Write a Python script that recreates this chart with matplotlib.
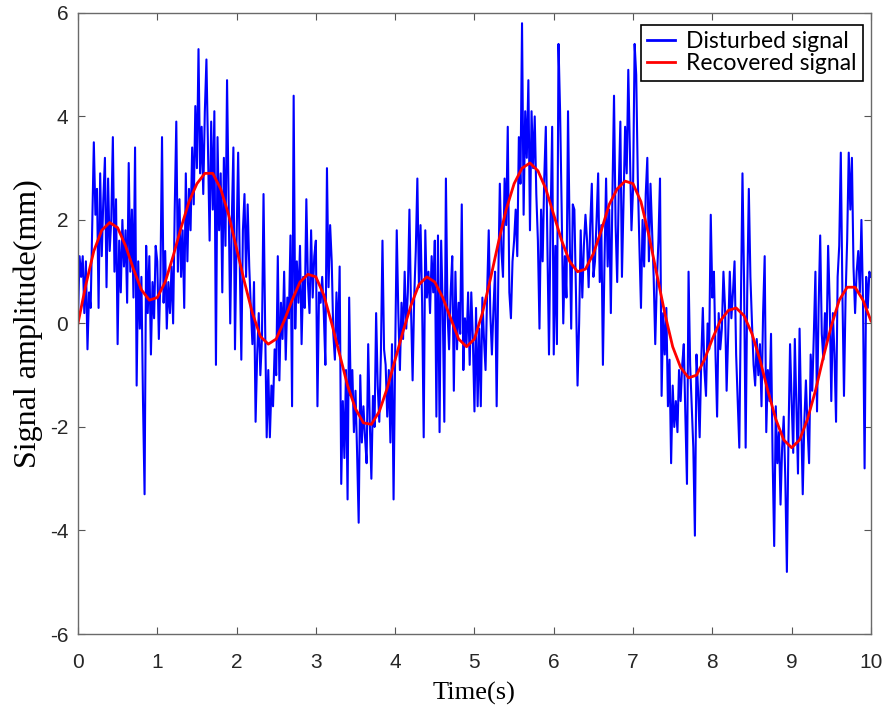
import numpy as np
import matplotlib
matplotlib.use("Agg")
import matplotlib.pyplot as plt

plt.rcParams['axes.unicode_minus'] = False

disturbed = [
    # 0.00 - 0.98
    0.1, 1.3, 0.9, 1.3, 0.2, 1.2, -0.5, 0.6, 0.3, 1.9,
    3.5, 2.1, 2.6, 0.3, 2.9, 1.3, 2.4, 3.2, 0.7, 2.8,
    1.4, 2.0, 3.6, 1.0, 2.4, -0.4, 1.6, 0.6, 2.0, 1.1,
    1.8, 0.4, 3.1, 1.0, 2.2, 0.5, 3.4, -1.2, 1.2, -0.1,
    0.9, -1.5, -3.3, 1.5, 0.2, 1.3, -0.6, 0.8, 0.1, 1.5,
    # 1.00 - 1.98
    1.2, -0.3, 0.9, 3.6, 0.4, 1.4, -0.1, 0.8, 0.2, 1.1,
    0.0, 2.2, 3.9, 1.0, 2.4, 0.9, 1.8, 0.3, 2.9, 1.2,
    2.6, 1.8, 3.4, 2.3, 4.2, 3.0, 5.3, 2.9, 3.8, 2.5,
    4.1, 5.1, 3.3, 1.6, 3.9, 2.2, 4.1, -0.8, 3.6, 1.8,
    2.9, 0.6, 3.2, 1.5, 4.7, 2.4, 0.0, 2.0, 3.4, -0.5,
    # 2.00 - 2.98
    1.6, 3.3, 1.2, -0.7, 1.8, 2.5, 0.9, 2.3, 1.1, 0.3,
    -0.4, 0.8, -1.9, -0.6, 0.2, -1.0, -0.3, 2.5, 0.0, -2.2,
    -0.9, -2.2, -1.2, -1.6, -0.5, -1.0, 1.3, -1.1, 0.4, -0.3,
    1.0, -0.7, 0.5, 0.1, 1.7, -1.6, 4.4, -0.1, 1.2, 0.4,
    1.5, -0.4, 0.9, 0.3, 2.4, 0.8, 0.2, 1.8, 0.5, 1.3,
    # 3.00 - 3.98
    1.6, -1.6, 0.6, 0.4, 0.9, 0.2, -0.8, 3.0, 0.7, 1.9,
    1.2, -0.2, -0.7, 0.6, -0.4, 1.1, -3.1, -1.5, -2.6, -0.9,
    -3.4, 0.5, -1.4, -0.9, -2.1, -1.3, -2.5, -3.85, -1.0, -2.3,
    -1.6, -2.2, -2.7, -0.4, -1.9, -3.0, -1.4, -2.0, 0.2, -1.2,
    -1.9, -0.6, 1.6, -0.5, -0.8, -1.8, -0.9, -2.3, -0.4, -3.4,
    # 4.00 - 4.98
    -0.6, 1.8, 0.2, -0.9, 0.4, -0.3, 1.0, -0.1, 0.6, 2.2,
    0.3, -1.1, 0.5, 1.4, 2.8, 0.7, 1.9, 0.4, -2.2, 1.8,
    0.5, 1.0, 0.2, 1.3, 0.6, 1.6, -1.8, 1.7, -2.1, 1.6,
    0.3, -1.9, 2.8, 0.2, -0.5, 0.6, 1.3, -1.3, 1.0, -0.5,
    0.4, -0.2, 2.3, -0.9, 0.1, -0.4, 0.6, -0.8, 0.6, -0.3,
    # 5.00 - 5.98
    -1.7, 0.3, -1.6, -0.1, -1.6, 0.5, -0.3, -0.9, 0.6, 1.8,
    0.2, -0.6, 0.3, 1.0, -1.6, 0.8, 2.7, 1.4, 0.9, 2.8,
    1.9, 3.8, 0.6, 0.1, 1.2, 1.6, 2.2, 1.3, 3.6, 2.7,
    5.8, 2.1, 4.1, 3.2, 4.7, 1.8, 4.1, 3.0, 4.0, 2.5,
    1.6, -0.1, 2.2, 1.2, 2.8, 3.8, 1.5, -0.6, 2.0, 3.8,
    # 6.00 - 6.98
    -0.6, 1.5, -0.4, 5.4, 4.1, 2.2, 0.0, 1.3, 0.5, 4.1,
    1.8, -0.1, 2.3, 2.2, 0.6, -1.2, 0.0, 1.8, 0.5, 1.5,
    2.1, 1.6, 0.7, 1.9, 2.7, 0.9, 1.2, 2.0, 2.9, 0.8,
    1.9, -0.8, 1.2, 2.8, 1.1, 2.2, 0.2, 2.5, 4.4, 1.9,
    0.8, 2.6, 3.9, 0.9, 2.4, 3.8, 2.9, 4.9, 3.4, 1.8,
    # 7.00 - 7.98
    2.6, 5.4, 4.8, 2.8, 1.5, 0.3, 2.0, 1.1, 2.5, 3.2,
    1.2, 2.7, 1.8, 0.9, -0.4, 0.8, 1.6, 2.8, -1.4, 0.2,
    -0.6, 0.3, -1.6, -0.7, -2.7, -1.2, -2.0, -1.5, -2.1, -0.9,
    -1.5, -0.8, -0.4, -1.8, -3.1, 1.0, -0.8, -1.6, -2.4, -4.1,
    -0.6, -1.3, -2.2, -0.7, 0.3, -0.9, -1.4, 0.0, -0.5, 2.1,
    # 8.00 - 8.98
    0.5, 1.0, -0.6, -1.8, 0.2, -0.5, -0.1, 1.0, 0.3, -1.3,
    -0.2, 1.0, 0.1, 0.6, 1.2, -0.6, -1.5, -2.4, 0.4, 2.9,
    0.8, -2.4, 0.6, 2.6, 0.9, 0.0, -0.8, -1.2, -0.3, -1.0,
    -0.4, -1.6, 0.2, 1.3, -2.1, -0.9, -1.5, -0.2, -2.6, -4.3,
    -1.6, -2.7, -2.1, -3.5, -2.4, -1.8, -3.0, -4.8, -2.2, -0.4,
    # 9.00 - 10.00
    -1.5, -2.5, -0.3, -1.6, -2.9, -0.1, -1.8, -3.3, -1.9, -1.1,
    -2.0, -2.7, -0.6, -1.3, -0.2, 1.0, -1.7, 0.3, 1.7, -0.2,
    -0.7, 0.2, -0.4, 1.5, 0.4, -1.5, 0.2, -0.6, -1.9, 0.9,
    1.5, 3.3, 0.6, -1.4, 0.5, 1.6, 3.3, 2.2, 3.2, 1.1,
    0.2, 1.0, 1.4, 0.6, 2.0, 0.4, -2.8, 0.9, 0.3, 1.0,
    0.9,
]
t_disturbed = np.linspace(0, 10, len(disturbed))

# Recovered (smooth) signal, sampled every 0.1 s
recovered = [
    0.0, 0.75, 1.4, 1.8, 1.95, 1.85, 1.5, 1.05, 0.65, 0.45,
    0.5, 0.8, 1.3, 1.85, 2.35, 2.7, 2.9, 2.9, 2.6, 2.1,
    1.45, 0.8, 0.2, -0.25, -0.4, -0.3, 0.05, 0.45, 0.8, 0.95,
    0.9, 0.55, 0.0, -0.6, -1.2, -1.65, -1.92, -1.95, -1.7, -1.25,
    -0.7, -0.15, 0.35, 0.75, 0.9, 0.8, 0.5, 0.1, -0.3, -0.45,
    -0.3, 0.2, 0.85, 1.55, 2.2, 2.7, 3.0, 3.1, 2.95, 2.6,
    2.1, 1.6, 1.2, 1.0, 1.05, 1.35, 1.8, 2.3, 2.6, 2.75,
    2.7, 2.35, 1.7, 0.95, 0.2, -0.45, -0.85, -1.05, -1.0, -0.7,
    -0.3, 0.05, 0.25, 0.3, 0.15, -0.2, -0.7, -1.3, -1.85, -2.25,
    -2.4, -2.25, -1.85, -1.3, -0.65, -0.05, 0.45, 0.7, 0.7, 0.45,
    0.05,
]
t_recovered = np.linspace(0, 10, len(recovered))

x_ticks = list(range(0, 11))
y_ticks = [-6, -4, -2, 0, 2, 4, 6]

fig = plt.figure(figsize=(8.86, 7.16), dpi=100)
ax = fig.add_axes([0.088, 0.1145, 0.895, 0.8675])

ax.plot(t_disturbed, disturbed, color=(0, 0, 1), lw=1.5, label='Disturbed signal')
ax.plot(t_recovered, recovered, color=(1, 0, 0), lw=2.0, label='Recovered signal')

ax.set_xlim(0, 10)
ax.set_ylim(-6, 6)
ax.set_xticks(x_ticks)
ax.set_yticks(y_ticks)
ax.set_xticklabels([str(v) for v in x_ticks])
ax.set_yticklabels([str(v) for v in y_ticks])

tick_family = ['Liberation Sans Narrow', 'Liberation Sans']
for lab in ax.get_xticklabels() + ax.get_yticklabels():
    lab.set_fontfamily(tick_family)
    lab.set_fontsize(15)
    lab.set_color('#262626')

ax.tick_params(direction='in', length=5, width=0.8, color='#555555',
               top=True, right=True)
ax.tick_params(axis='x', pad=14)
ax.tick_params(axis='y', pad=7)
for sp in ax.spines.values():
    sp.set_color('#6a6a6a')
    sp.set_linewidth(1.0)

ax.set_xlabel('Time(s)', family='Liberation Serif', fontsize=19, labelpad=7)
ax.set_ylabel('Signal amplitude(mm)', family='Liberation Serif', fontsize=23, labelpad=5)

leg = ax.legend(loc='upper right', bbox_to_anchor=(0.990, 0.981), borderaxespad=0,
                prop={'family': 'Lato', 'size': 16.5}, fancybox=False, shadow=False,
                framealpha=1, edgecolor='black', handlelength=1.2,
                handletextpad=0.5, labelspacing=0.05, borderpad=0.28)
leg.get_frame().set_linewidth(1.2)
for line in leg.get_lines():
    line.set_linewidth(2.0)

fig.savefig('out.png', dpi=100)
